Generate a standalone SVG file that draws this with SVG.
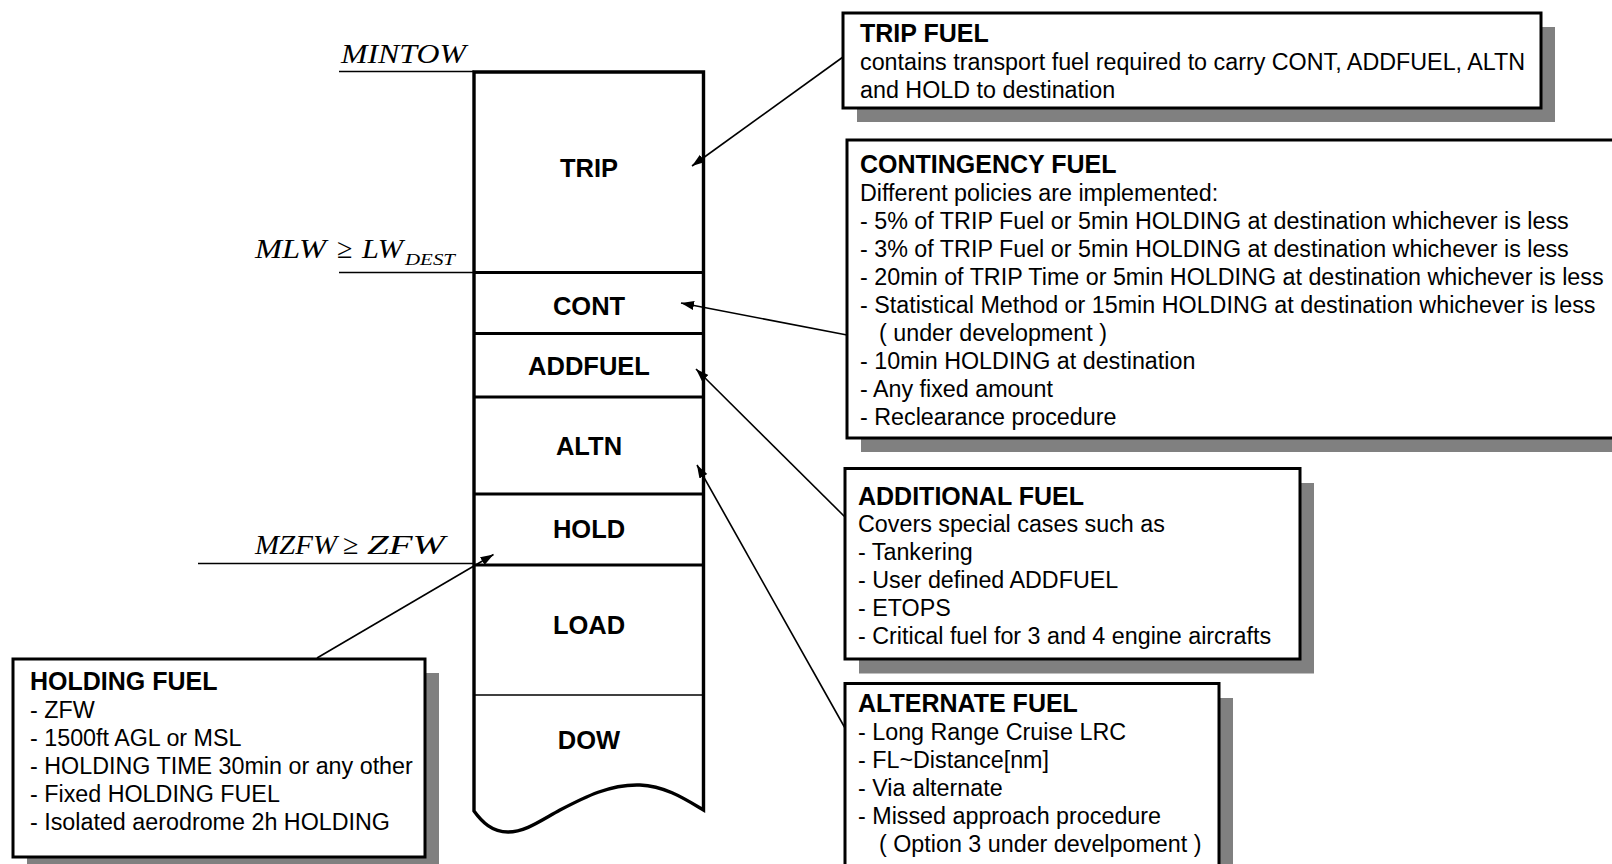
<svg xmlns="http://www.w3.org/2000/svg" width="1612" height="864" viewBox="0 0 1612 864">
<defs>
<style>
.col{fill:#fff;stroke:#000;stroke-width:3.4;stroke-linejoin:miter}
.div{stroke:#000;stroke-width:3.2}
.thin{stroke:#000;stroke-width:1.3}
.lab{font-family:"Liberation Sans",Arial,sans-serif;font-weight:bold;font-size:25.5px;text-anchor:middle;fill:#000}
.math{font-family:"Liberation Serif","Times New Roman",serif;font-style:italic;font-size:28px;fill:#000}
.sub{font-family:"Liberation Serif","Times New Roman",serif;font-style:italic;font-size:17px;fill:#000}
.shadow{fill:#808080}
.box{fill:#fff;stroke:#000;stroke-width:3}
.ttl{font-family:"Liberation Sans",Arial,sans-serif;font-weight:bold;font-size:25px;fill:#000}
.body{font-family:"Liberation Sans",Arial,sans-serif;font-size:23.3px;fill:#000}
.conn{stroke:#000;stroke-width:1.6;fill:none;marker-end:url(#ah)}
</style>
<marker id="ah" markerUnits="userSpaceOnUse" markerWidth="14" markerHeight="10" refX="13" refY="4.5" orient="auto">
<path d="M0,0 L13,4.5 L0,9 Z" fill="#000"/>
</marker>
</defs>
<rect width="1612" height="864" fill="#fff"/>

<g id="weight-labels">
<line class="thin" x1="339" y1="71.5" x2="474" y2="71.5"/>
<text class="math" x="341" y="63" textLength="125" lengthAdjust="spacingAndGlyphs">MINTOW</text>
<line class="thin" x1="339" y1="272.5" x2="474" y2="272.5"/>
<text class="math" y="258"><tspan x="255" textLength="71" lengthAdjust="spacingAndGlyphs">MLW</tspan><tspan x="337">≥</tspan><tspan x="362" textLength="41" lengthAdjust="spacingAndGlyphs">LW</tspan></text>
<text class="sub" x="405" y="265" textLength="50" lengthAdjust="spacingAndGlyphs">DEST</text>
<line class="thin" x1="198" y1="563.5" x2="474" y2="563.5"/>
<text class="math" y="553.5"><tspan x="255" textLength="82" lengthAdjust="spacingAndGlyphs">MZFW</tspan><tspan x="343">≥</tspan><tspan x="367" textLength="78" lengthAdjust="spacingAndGlyphs">ZFW</tspan></text>
</g>

<g id="column">
<path class="col" d="M474,811 L474,72 L703.5,72 L703.5,810 C685,799 665,786 640,785 C610,784 585,797 560,810 C540,821 525,832 508,832 C492,832 482,822 474,811 Z"/>
</g>
<g id="seg-trip">
<text class="lab" x="589" y="176.5">TRIP</text>
<line class="div" x1="474" y1="272.5" x2="703.5" y2="272.5"/>
</g>
<g id="seg-cont">
<text class="lab" x="589" y="314.5">CONT</text>
<line class="div" x1="474" y1="333.5" x2="703.5" y2="333.5"/>
</g>
<g id="seg-addfuel">
<text class="lab" x="589" y="375">ADDFUEL</text>
<line class="div" x1="474" y1="397" x2="703.5" y2="397"/>
</g>
<g id="seg-altn">
<text class="lab" x="589" y="455">ALTN</text>
<line class="div" x1="474" y1="494" x2="703.5" y2="494"/>
</g>
<g id="seg-hold">
<text class="lab" x="589" y="537.5">HOLD</text>
<line class="div" x1="474" y1="565" x2="703.5" y2="565"/>
</g>
<g id="seg-load">
<text class="lab" x="589" y="634">LOAD</text>
<line class="thin" x1="474" y1="695" x2="703.5" y2="695"/>
</g>
<g id="seg-dow">
<text class="lab" x="589" y="749">DOW</text>
</g>

<g id="trip-fuel">
<rect class="shadow" x="857" y="27" width="698" height="95"/>
<rect class="box" x="843" y="13" width="698" height="95"/>
<text class="ttl" x="860" y="41.5">TRIP FUEL</text>
<text class="body" x="860" y="69.5">contains transport fuel required to carry CONT, ADDFUEL, ALTN</text>
<text class="body" x="860" y="97.5">and HOLD to destination</text>
</g>

<g id="contingency-fuel">
<rect class="shadow" x="861" y="154" width="800" height="298"/>
<rect class="box" x="847" y="140" width="800" height="298"/>
<text class="ttl" x="860" y="172.5">CONTINGENCY FUEL</text>
<text class="body" x="860" y="200.5">Different policies are implemented:</text>
<text class="body" x="860" y="228.5">- 5% of TRIP Fuel or 5min HOLDING at destination whichever is less</text>
<text class="body" x="860" y="256.5">- 3% of TRIP Fuel or 5min HOLDING at destination whichever is less</text>
<text class="body" x="860" y="284.5">- 20min of TRIP Time or 5min HOLDING at destination whichever is less</text>
<text class="body" x="860" y="312.5">- Statistical Method or 15min HOLDING at destination whichever is less</text>
<text class="body" x="879" y="340.5">( under development )</text>
<text class="body" x="860" y="368.5">- 10min HOLDING at destination</text>
<text class="body" x="860" y="396.5">- Any fixed amount</text>
<text class="body" x="860" y="424.5">- Reclearance procedure</text>
</g>

<g id="additional-fuel">
<rect class="shadow" x="859" y="483" width="455" height="190.5"/>
<rect class="box" x="845" y="468.5" width="455" height="190.5"/>
<text class="ttl" x="858" y="504.5">ADDITIONAL FUEL</text>
<text class="body" x="858" y="532">Covers special cases such as</text>
<text class="body" x="858" y="560">- Tankering</text>
<text class="body" x="858" y="588">- User defined ADDFUEL</text>
<text class="body" x="858" y="616">- ETOPS</text>
<text class="body" x="858" y="644">- Critical fuel for 3 and 4 engine aircrafts</text>
</g>

<g id="alternate-fuel">
<rect class="shadow" x="859" y="698" width="374" height="250"/>
<rect class="box" x="845" y="683.5" width="374" height="250"/>
<text class="ttl" x="858" y="712">ALTERNATE FUEL</text>
<text class="body" x="858" y="739.5">- Long Range Cruise LRC</text>
<text class="body" x="858" y="767.5">- FL~Distance[nm]</text>
<text class="body" x="858" y="795.5">- Via alternate</text>
<text class="body" x="858" y="823.5">- Missed approach procedure</text>
<text class="body" x="879" y="851.5">( Option 3 under develpoment )</text>
</g>

<g id="holding-fuel">
<rect class="shadow" x="27" y="673" width="412" height="198"/>
<rect class="box" x="13" y="659" width="412" height="198"/>
<text class="ttl" x="30" y="690">HOLDING FUEL</text>
<text class="body" x="30" y="717.5">- ZFW</text>
<text class="body" x="30" y="745.5">- 1500ft AGL or MSL</text>
<text class="body" x="30" y="773.5">- HOLDING TIME 30min or any other</text>
<text class="body" x="30" y="801.5">- Fixed HOLDING FUEL</text>
<text class="body" x="30" y="829.5">- Isolated aerodrome 2h HOLDING</text>
</g>

<g id="connectors">
<line class="conn" x1="843" y1="57" x2="692" y2="166"/>
<line class="conn" x1="847" y1="335" x2="681" y2="303"/>
<line class="conn" x1="845" y1="517" x2="696" y2="369"/>
<line class="conn" x1="845" y1="728" x2="697" y2="465"/>
<line class="conn" x1="317" y1="658" x2="493.5" y2="554.5"/>
</g>
</svg>
